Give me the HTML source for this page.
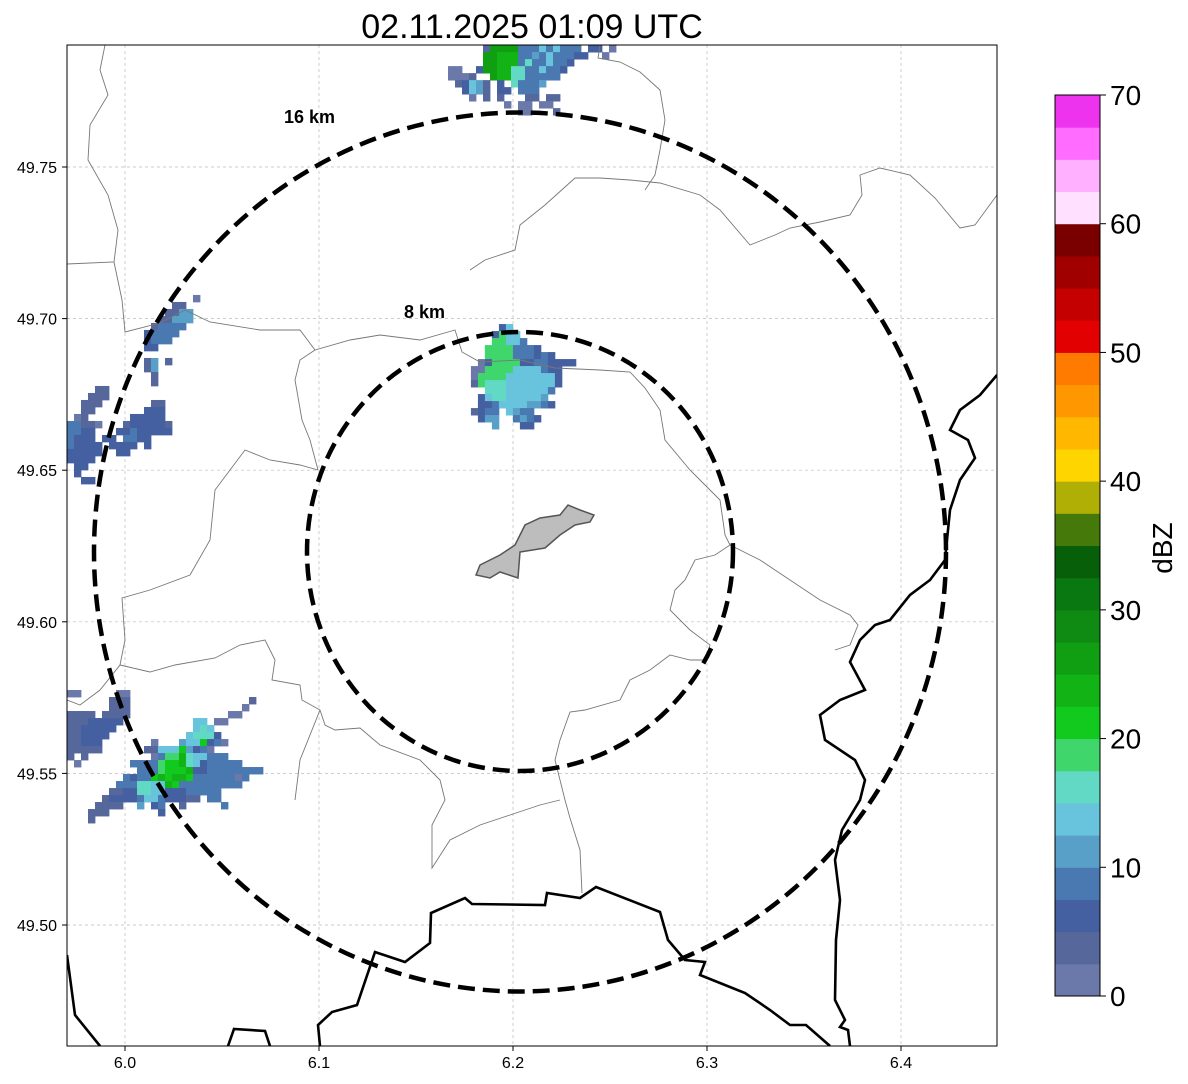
<!DOCTYPE html>
<html><head><meta charset="utf-8">
<style>
body{margin:0;background:#fff;}
svg{display:block;font-family:"Liberation Sans","DejaVu Sans",sans-serif;}
</style></head>
<body>
<svg id="chart" width="1188" height="1084" viewBox="0 0 1188 1084" xmlns="http://www.w3.org/2000/svg">
<defs><clipPath id="plotclip"><rect x="67" y="45" width="930" height="1001"/></clipPath></defs>
<text x="532" y="38" font-size="34" text-anchor="middle" fill="#000">02.11.2025 01:09 UTC</text>
<g id="grid"></g>
<g clip-path="url(#plotclip)">
<g id="cells"></g>
<g fill="none" stroke="#777" stroke-width="0.9">
<polyline points="105,45 100,70 108,95 90,125 88,160 108,195 118,230 114,262 67,264"/>
<polyline points="114,262 122,300 125,332 160,323 185,310 210,322 260,330 300,330 315,350 350,340 380,335 420,340 455,330 462,352 480,362 520,360 555,368 600,370 630,372 645,388 660,410 665,440 690,470 700,480 720,500 725,535 730,545 715,555 695,560 685,580 675,590 670,610 690,630 710,645 705,660 690,660 670,655 650,670 630,680 620,700 585,710 570,712 560,740 555,760 565,800 570,818 580,850 582,893"/>
<polyline points="600,45 598,58 620,62 640,72 660,90 665,120 660,150 655,175 645,190"/>
<polyline points="470,270 485,260 515,250 520,225 545,205 575,178 600,178 630,180 660,183 700,195 720,210 750,245 775,235 790,228 820,222 850,215 862,195 860,175 880,168 910,175 935,198 960,228 975,225 997,195"/>
<polyline points="315,350 300,360 295,380 302,420 310,440 318,470 300,465 270,460 245,450 215,490 210,540 190,575 150,590 122,598 125,640 120,665 100,690 80,705 67,700"/>
<polyline points="120,665 150,672 175,665 215,658 240,645 265,640 275,660 272,680 300,685 302,700 320,710 325,725 335,730 360,728 380,745 420,760 440,780 445,800 432,825 432,868 450,840 480,825 510,815 540,805 560,800"/>
<polyline points="730,545 760,560 790,580 820,600 850,615 858,625 850,645 835,650"/>
<polyline points="320,710 300,760 295,800"/>
</g>
<g fill="none" stroke="#000" stroke-width="2.6">
<polyline points="320,1046 318,1025 332,1012 357,1005 375,952 405,962 430,943 431,913 465,898 472,904 545,905 547,893 580,898 596,887 660,912 668,940 685,960 705,962 700,975 745,993 770,1010 790,1025 806,1025 830,1046"/>
<polyline points="67,955 75,1015 100,1046"/>
<polyline points="228,1046 234,1029 265,1031 270,1046"/>
<polyline points="997,375 980,395 960,410 950,430 968,440 975,458 960,480 950,510 945,560 930,580 910,595 890,620 875,625 860,640 850,662 865,690 840,700 820,715 825,740 855,760 865,780 860,800 842,830 835,860 840,900 836,940 835,1000 845,1020 840,1027 848,1030 850,1046"/>
</g>
<polygon points="476,575 480,565 500,555 515,545 525,525 540,518 560,515 568,505 580,510 594,515 590,522 575,525 560,535 545,548 520,552 518,578 500,572 490,578" fill="#bdbdbd" stroke="#555" stroke-width="1.5"/>
<ellipse cx="520" cy="552" rx="426" ry="439.5" fill="none" stroke="#000" stroke-width="4.5" stroke-dasharray="17,8"/>
<ellipse cx="520" cy="551.5" rx="213" ry="219.5" fill="none" stroke="#000" stroke-width="4.5" stroke-dasharray="17,8"/>
</g>
<text x="284" y="123" font-size="18" font-weight="bold">16 km</text>
<text x="404" y="318" font-size="18" font-weight="bold">8 km</text>
<rect x="67" y="45" width="930" height="1001" fill="none" stroke="#000" stroke-width="1"/>
<g id="axes"></g>
<g id="cbar"></g>
<text x="1172" y="548" font-size="28" text-anchor="middle" transform="rotate(-90 1172 548)">dBZ</text>
</svg>
<script>
const xTicks=[6.0,6.1,6.2,6.3,6.4];
const yTicks=[49.50,49.55,49.60,49.65,49.70,49.75];
const cbTicks=[0,10,20,30,40,50,60,70];
const cbBounds=[0,2.5,5,7.5,10,12.5,15,17.5,20,22.5,25,27.5,30,32.5,35,37.5,40,42.5,45,47.5,50,52.5,55,57.5,60,62.5,65,67.5,70];
const cbColors=["#6a79a9","#56679c","#4560a1","#4a78b0","#59a0c9","#68c3dc","#62d9c4","#3fd76c","#12c91e","#12b315","#109f13","#0f8a12","#0a7810","#075f0a","#457a0a","#afaf05","#ffd500","#ffb700","#ff9800","#ff7b00","#e20000","#c40000","#a00000","#7a0000","#ffe0ff","#ffb0ff","#ff6cff","#ee33ee"];
const codeValues={"1":1,"2":4,"3":6,"4":9,"5":11,"6":14,"7":16,"8":19,"9":21,"A":24,"B":26};
const cellLon=0.003608, cellLat=0.002309;
const blobOrigins=[[6.1747,49.6982],[5.9701,49.5775],[5.9701,49.7078],[6.1665,49.7902]];
const blobGrids=[
[".....36.........","....3866........","....88664.......","...88884443.....","...8888444343...","..13888833443333",".1188886666433..",".1888866666663..",".2877766666663..","...7776666664...","..3677666665....","..33466665543...",".2344.6544......","..355..4543.....","....5...33......"],
["11.....11...................","......222.................2.","......222................1..","2222.2222..............11...","22233333..........66.11.....","2233333...........676.......","223333...........67773......","22333.......1...5669341.....","22222......2266695341.......","2.2.........1488A766444.....",".1.......4444899A76344444...","..........4448999A3344444444","........43449A9AA944444414..",".......4447766A9444444444...","......2233776633344444......",".....23333466433322.44......","....2222..5.34..2.....4.....","...222.......3..............","...2........................"],
["..................1..","...............22....","..............2255...",".............22555...","............24444....","...........34444.....","...........3444......","...........33........",".....................","...........25.2......","...........25........","............2........","............2........","....22...............","...222...............","..222.......22.......","..22.......333.......",".12......33333.......","44221...2333332......","4433...33433333......","4333.33.4433.........","43333.3333.3.........","33333..33............","3333.................",".33..................",".3...................","..33................."],
[".....2BBBB444646444.33.1",".....BBAAA4454644433..1.",".....BBAAA47446443......","11..3BBAA77446443.......","1112..BAA7744444........",".23652.3.74445..........","..3652.33.444...........","...1.2.2...22.22........","........1.11.11.........","..........11...2........"]
];
const NS="http://www.w3.org/2000/svg";
function xScale(lon){return 125+(lon-6.0)*1940;}
function yScale(lat){return 167+(49.75-lat)*3032;}
function cbY(v){return 996-(v/70)*901;}
function colorFor(v){for(let i=0;i<cbColors.length;i++){if(v<cbBounds[i+1])return cbColors[i];}return cbColors[cbColors.length-1];}
function mk(tag,attrs,parent){const e=document.createElementNS(NS,tag);for(const k in attrs)e.setAttribute(k,attrs[k]);parent.appendChild(e);return e;}
const grid=document.getElementById('grid'),axes=document.getElementById('axes'),cells=document.getElementById('cells'),cbar=document.getElementById('cbar');
xTicks.forEach(t=>{const x=xScale(t);
 const l=mk('line',{x1:x,y1:45,x2:x,y2:1046,stroke:'#bbb','stroke-width':0.7,'stroke-dasharray':'3,3'},grid);
 
 
 const tk=mk('line',{x1:x,y1:1046,x2:x,y2:1051,stroke:'#000'},axes);
 
 
 const tx=mk('text',{x:x,y:1068,'font-size':16,'text-anchor':'middle'},axes);tx.textContent=t.toFixed(1);
 
 
});
yTicks.forEach(t=>{const y=yScale(t);
 const l=mk('line',{x1:67,y1:y,x2:997,y2:y,stroke:'#bbb','stroke-width':0.7,'stroke-dasharray':'3,3'},grid);
 
 
 const tk=mk('line',{x1:62,y1:y,x2:67,y2:y,stroke:'#000'},axes);
 
 
 const tx=mk('text',{x:57,y:y+6,'font-size':16,'text-anchor':'end'},axes);tx.textContent=t.toFixed(2);
 
 
});
blobGrids.forEach((rows,b)=>{const [lon0,lat0]=blobOrigins[b];
 rows.forEach((row,r)=>{[...row].forEach((ch,c)=>{if(!(ch in codeValues))return;
  const v=codeValues[ch];
  const x0=xScale(lon0+c*cellLon),y0=yScale(lat0-r*cellLat);
  const x1=xScale(lon0+(c+1)*cellLon),y1=yScale(lat0-(r+1)*cellLat);
  const rc=mk('rect',{x:x0,y:y0,width:x1-x0+0.4,height:y1-y0+0.4,fill:colorFor(v)},cells);
  
  
 });});
});
cbColors.forEach((col,i)=>{const y0=cbY(cbBounds[i+1]),y1=cbY(cbBounds[i]);
 const rc=mk('rect',{x:1055,y:y0,width:45,height:y1-y0+0.5,fill:col},cbar);
 
 
});
const fr=mk('rect',{x:1055,y:95,width:45,height:901,fill:'none',stroke:'#000','stroke-width':1},cbar);


cbTicks.forEach(t=>{const y=cbY(t);
 const tk=mk('line',{x1:1100,y1:y,x2:1106,y2:y,stroke:'#000'},cbar);
 
 
 const tx=mk('text',{x:1110,y:y+10,'font-size':28},cbar);tx.textContent=t;
 
 
});
</script>
</body></html>
